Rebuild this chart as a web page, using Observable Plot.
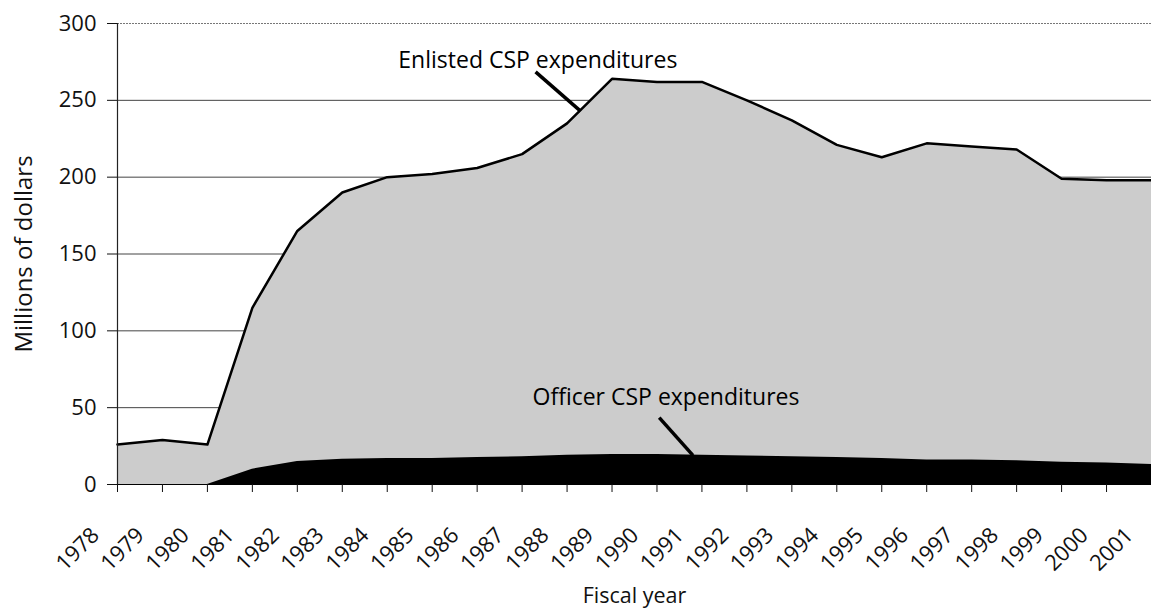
<!DOCTYPE html>
<html>
<head>
<meta charset="utf-8">
<script src="https://cdn.jsdelivr.net/npm/d3@7"></script>
<script src="https://cdn.jsdelivr.net/npm/@observablehq/plot@0.6"></script>
<style>
  html, body { margin: 0; padding: 0; background: #fff; }
  #chart svg { display: block; }
</style>
</head>
<body>
<div id="chart"></div>
<script>
// Fiscal years (categories)
const years = [1978, 1979, 1980, 1981, 1982, 1983, 1984, 1985, 1986, 1987, 1988, 1989,
               1990, 1991, 1992, 1993, 1994, 1995, 1996, 1997, 1998, 1999, 2000, 2001];
// Enlisted CSP expenditures (millions of dollars)
const enlisted = [26, 29, 26, 115, 165, 190, 200, 202, 206, 215, 235, 264,
                  262, 262, 250, 237, 221, 213, 222, 220, 218, 199, 198, 198];
// Officer CSP expenditures (millions of dollars)
const officer = [0, 0, 0, 10, 15, 16.5, 17, 17, 17.5, 18, 19, 19.5,
                 19.5, 19, 18.5, 18, 17.5, 17, 16, 16, 15.5, 14.5, 14, 13];
// Y-axis tick values
const yTicks = [0, 50, 100, 150, 200, 250, 300];

// Annotations: label position and leader line (in data units)
const annLabels = ["Enlisted CSP expenditures", "Officer CSP expenditures"];
const annX = [1987.35, 1990.2];
const annY = [276, 56.5];
const leadX1 = [1987.3, 1990.05];
const leadY1 = [268.5, 43.5];
const leadX2 = [1988.3, 1990.8];
const leadY2 = [243, 19];

const enlistedData = years.map((year, i) => ({year, value: enlisted[i]}));
const officerData = years.map((year, i) => ({year, value: officer[i]}));
const annData = annLabels.map((text, i) => ({text, x: annX[i], y: annY[i], x1: leadX1[i], y1: leadY1[i], x2: leadX2[i], y2: leadY2[i]}));

const font = "'Open Sans', 'DejaVu Sans', sans-serif";

const chart = Plot.plot({
  width: 1151,
  height: 613,
  marginLeft: 117,
  marginRight: 0,
  marginTop: 23,
  marginBottom: 129,
  style: { fontFamily: font, fontSize: "22px", color: "#111", background: "#fff" },
  x: { domain: [1978, 2001] },
  y: { domain: [0, 300] },
  marks: [
    Plot.gridY(yTicks.filter(d => d > 0 && d < 300), { stroke: "#444", strokeOpacity: 1, strokeWidth: 1 }),
    Plot.gridY([300], { stroke: "#777", strokeOpacity: 1, strokeWidth: 1, strokeDasharray: "2,1" }),
    Plot.areaY(enlistedData, { x: "year", y: "value", fill: "#cccccc" }),
    Plot.areaY(officerData, { x: "year", y: "value", fill: "#000" }),
    Plot.lineY(enlistedData, { x: "year", y: "value", stroke: "#000", strokeWidth: 2.5 }),
    Plot.ruleY([0], { stroke: "#000", strokeWidth: 1.2 }),
    Plot.ruleX([1978], { stroke: "#222", strokeWidth: 1.2 }),
    Plot.axisY({
      ticks: yTicks, tickSize: 10, tickPadding: 11, fontSize: 22,
      label: null
    }),
    Plot.text(["Millions of dollars"], { frameAnchor: "left", textAnchor: "middle", dx: -93, rotate: -90, fontSize: 24, text: d => d }),
    Plot.axisX({ ticks: years, tickSize: 8, tickFormat: () => "", label: null }),
    Plot.axisX({
      ticks: years, tickSize: 0, tickRotate: -45, tickPadding: 42, dx: -22, dy: 5,
      fontSize: 22, tickFormat: d => String(d), label: null
    }),
    Plot.text(["Fiscal year"], { frameAnchor: "bottom", dy: 118, fontSize: 21.5, text: d => d }),
    Plot.link(annData, { x1: "x1", y1: "y1", x2: "x2", y2: "y2", stroke: "#000", strokeWidth: 3.5 }),
    Plot.text(annData, { x: "x", y: "y", text: "text", fontSize: 23, fill: "#000" })
  ]
});

document.getElementById("chart").appendChild(chart);
</script>
</body>
</html>
